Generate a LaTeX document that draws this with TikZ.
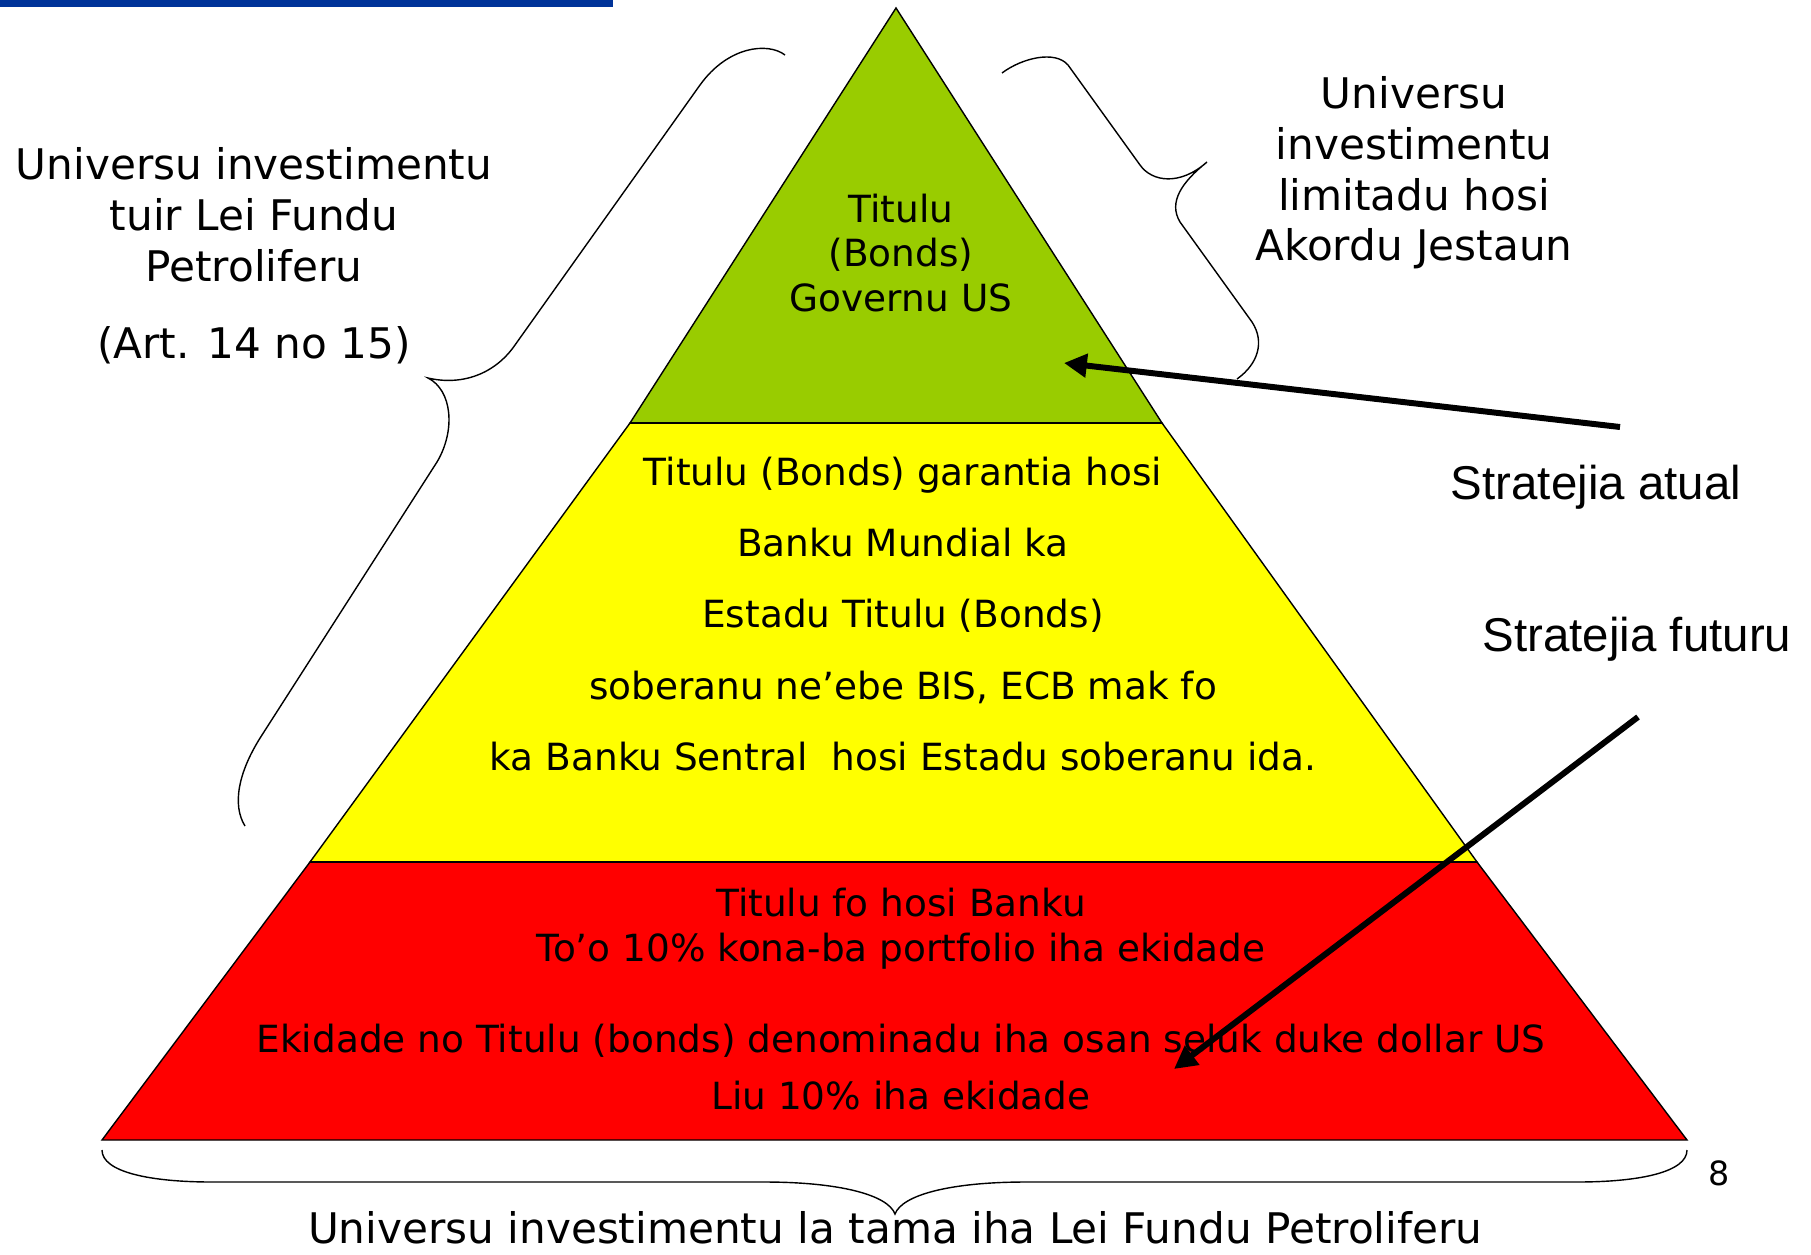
\documentclass[tikz,border=0pt]{standalone}
\usepackage{fontspec}
\setmainfont{DejaVu Sans}
\newfontfamily\arialfont{Liberation Sans}
\usetikzlibrary{arrows.meta}
\definecolor{bondgreen}{RGB}{153,204,0}
\definecolor{bondyellow}{RGB}{255,255,0}
\definecolor{bondred}{RGB}{255,0,0}
\definecolor{barblue}{RGB}{0,51,153}

\begin{document}
\begin{tikzpicture}[x=0.02cm, y=-0.02cm,
    layer/.style={draw=black, line width=0.8pt, line join=miter},
    divider/.style={line width=1.5pt},
    brace/.style={draw=black, line width=0.8pt},
    outside/.style={align=center, font=\fontsize{24}{28.8}\selectfont},
    inside/.style={align=center, font=\fontsize{21.3}{25.5}\selectfont},
    strat/.style={font=\arialfont\fontsize{27}{32}\selectfont},
    stratarrow/.style={line width=3.4pt, -{Triangle[length=13pt, width=13pt]}}]
    \useasboundingbox (0,0) rectangle (1811,1254);
    \fill[barblue] (0,0) rectangle (613,7);

    % pyramid
    \coordinate (apex) at (896,8);
    \coordinate (gl) at (630,423);
    \coordinate (gr) at (1162,423);
    \coordinate (yl) at (310,862);
    \coordinate (yr) at (1477,862);
    \coordinate (rl) at (102,1140);
    \coordinate (rr) at (1687,1140);
    \filldraw[layer, fill=bondred] (yl) -- (yr) -- (rr) -- (rl) -- cycle;
    \filldraw[layer, fill=bondyellow] (gl) -- (gr) -- (yr) -- (yl) -- cycle;
    \filldraw[layer, fill=bondgreen] (apex) -- (gr) -- (gl) -- cycle;
    \draw[divider] (gl) -- (gr);
    \draw[divider] (yl) -- (yr);

    \node[inside] (greentext) at (901,253) {Titulu\\(Bonds)\\Governu US};
    \node[inside] (yellowtext) at (903,614) {Titulu (Bonds) garantia hosi\\[15pt]Banku Mundial ka\\[15pt]Estadu Titulu (Bonds)\\[15pt]soberanu ne’ebe BIS, ECB mak fo\\[15pt]ka Banku Sentral~ hosi Estadu soberanu ida.};
    \node[inside] (redtext) at (901,999) {Titulu fo hosi Banku\\To’o 10\% kona-ba portfolio iha ekidade\\[26pt]Ekidade no Titulu (bonds) denominadu iha osan seluk duke dollar US\\[7pt]Liu 10\% iha ekidade};

    % braces
    \draw[brace] (785,55) .. controls (768,42) and (728,46) .. (700,85) -- (515,345)
        .. controls (495,374) and (462,386) .. (428,378)
        .. controls (452,390) and (456,430) .. (437,462) -- (262,735)
        .. controls (238,772) and (232,805) .. (245,826);
    \draw[brace] (1002,73) .. controls (1022,58) and (1055,50) .. (1068,65) -- (1140,165)
        .. controls (1152,182) and (1180,186) .. (1207,162)
        .. controls (1182,182) and (1168,202) .. (1180,222) -- (1252,322)
        .. controls (1265,342) and (1258,364) .. (1237,379);
    \draw[brace] (102,1150) .. controls (102,1172) and (150,1182) .. (212,1182) -- (764,1182)
        .. controls (840,1182) and (888,1195) .. (895,1214)
        .. controls (902,1195) and (950,1182) .. (1026,1182) -- (1577,1182)
        .. controls (1640,1182) and (1687,1172) .. (1687,1150);

    \node[outside] (lawtext) at (254,256) {Universu investimentu\\tuir Lei Fundu\\Petroliferu\\[0.54cm](Art. 14 no 15)};
    \node[outside] (limittext) at (1414,173) {Universu\\investimentu\\limitadu hosi\\Akordu Jestaun};
    \node[outside, anchor=base] (fundtext) at (895,1243) {Universu investimentu la tama iha Lei Fundu Petroliferu};
    \node[font=\fontsize{19}{23}\selectfont] (pagenum) at (1719,1173) {8};

    \node[strat] (atual) at (1596,487) {Stratejia atual};
    \node[strat] (futuru) at (1637,639) {Stratejia futuru};
    \coordinate (atualfrom) at (1620,427);
    \coordinate (atualto) at (1064,363);
    \coordinate (futurufrom) at (1638,717);
    \coordinate (futuruto) at (1174,1069);
    \draw[stratarrow] (atualfrom) -- (atualto);
    \draw[stratarrow] (futurufrom) -- (futuruto);
\end{tikzpicture}
\end{document}
